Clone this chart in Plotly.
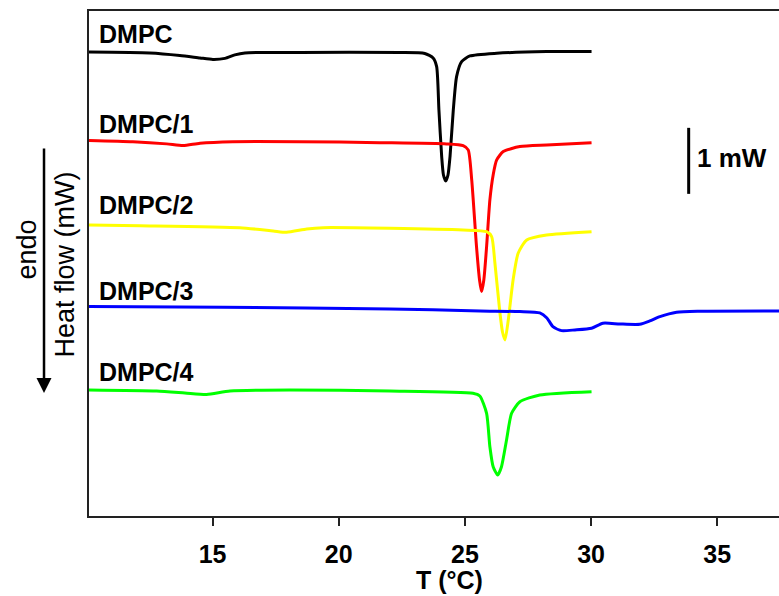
import plotly.graph_objects as go

# ---- data (T in °C, heat flow relative to each curve's start baseline, mW) ----
names = ["DMPC", "DMPC/1", "DMPC/2", "DMPC/3", "DMPC/4"]
colors = ["#000000", "#ff0000", "#ffff00", "#0000ff", "#00ff00"]
offsets = [7.030, 5.682, 4.409, 3.167, 1.909]          # stacking offsets (mW)
label_y = [7.303, 5.939, 4.712, 3.402, 2.174]          # curve label heights (mW)

T_dmpc = [10.10, 12.51, 13.70, 14.50, 15.01, 15.49, 15.88, 16.28, 18.46, 22.42, 23.41,
          23.74, 23.88, 23.97, 24.08, 24.15, 24.24, 24.33, 24.41, 24.54, 24.67, 24.87,
          25.20, 26.26, 28.24, 30.02]
H_dmpc = [0.000, -0.015, -0.053, -0.091, -0.114, -0.098, -0.045, -0.015, -0.008, -0.008, -0.023,
          -0.091, -0.223, -0.879, -1.586, -1.864, -1.955, -1.864, -1.586, -0.879, -0.374, -0.147,
          -0.061, -0.020, 0.005, 0.005]

T_1 = [10.10, 11.84, 13.18, 13.83, 14.50, 15.80, 18.46, 21.63, 24.27, 24.93, 25.13, 25.27,
       25.46, 25.58, 25.66, 25.75, 25.86, 25.99, 26.12, 26.26, 26.52, 27.18, 28.24, 30.02]
H_1 = [0.008, -0.011, -0.045, -0.071, -0.035, -0.011, -0.011, -0.026, -0.045, -0.071, -0.136, -0.591,
       -1.602, -2.106, -2.283, -2.106, -1.602, -0.894, -0.515, -0.288, -0.162, -0.086, -0.061, -0.026]

T_2 = [10.10, 12.12, 16.08, 17.40, 17.93, 18.73, 19.38, 22.03, 24.93, 25.86, 26.06, 26.19,
       26.39, 26.49, 26.59, 26.72, 26.91, 27.11, 27.45, 28.24, 30.02]
H_2 = [0.000, -0.011, -0.041, -0.091, -0.111, -0.061, -0.041, -0.050, -0.076, -0.102, -0.177, -0.580,
       -1.338, -1.621, -1.742, -1.439, -0.833, -0.429, -0.227, -0.152, -0.102]

T_3 = [10.10, 15.41, 22.03, 25.60, 27.18, 27.97, 28.25, 28.49, 28.83, 29.36, 30.02, 30.47,
       31.14, 31.93, 32.33, 32.73, 33.39, 34.31, 37.45]
H_3 = [0.005, -0.005, -0.030, -0.061, -0.071, -0.091, -0.167, -0.298, -0.359, -0.348, -0.323, -0.247,
       -0.258, -0.262, -0.212, -0.147, -0.080, -0.065, -0.061]

T_4 = [10.10, 12.78, 13.90, 14.76, 15.69, 18.06, 22.03, 25.32, 25.59, 25.86, 25.99, 26.12,
       26.30, 26.45, 26.65, 26.85, 27.18, 27.97, 30.02]
H_4 = [0.000, -0.015, -0.045, -0.068, -0.015, 0.000, -0.015, -0.050, -0.091, -0.353, -0.859, -1.162,
       -1.288, -1.162, -0.758, -0.353, -0.177, -0.076, -0.026]

x_ticks = [15, 20, 25, 30, 35]
scale_bar = [1.0]   # mW

series_T = [T_dmpc, T_1, T_2, T_3, T_4]
series_H = [H_dmpc, H_1, H_2, H_3, H_4]

FONT = "Liberation Sans, Arial, sans-serif"
X_MIN, X_MAX = 10.10, 37.45
Y_MIN, Y_MAX = 0.0, 7.65

fig = go.Figure()
for name, col, off, T, H in zip(names, colors, offsets, series_T, series_H):
    fig.add_trace(go.Scatter(
        x=T, y=[off + h for h in H], mode="lines", name=name,
        line=dict(color=col, width=3, shape="spline", smoothing=0.6),
        showlegend=False, hoverinfo="skip"))

annotations = []
for name, ly in zip(names, label_y):
    annotations.append(dict(x=10.41, y=ly, xref="x", yref="y", text="<b>%s</b>" % name,
                            showarrow=False, xanchor="left", yanchor="middle",
                            font=dict(family=FONT, size=25, color="black")))

# scale bar (1 mW)
sb_x = 33.87
sb_y0 = 4.88
fig.add_shape(type="line", xref="x", yref="y", x0=sb_x, x1=sb_x, y0=sb_y0, y1=sb_y0 + scale_bar[0],
              line=dict(color="black", width=3))
annotations.append(dict(x=sb_x + 0.26, y=sb_y0 + scale_bar[0] / 2 + 0.05, xref="x", yref="y",
                        text="<b>1 mW</b>", showarrow=False, xanchor="left", yanchor="middle",
                        font=dict(family=FONT, size=26, color="black")))

# axis titles
annotations.append(dict(x=0.522, y=-0.127, xref="paper", yref="paper", text="<b>T (°C)</b>",
                        showarrow=False, xanchor="center", yanchor="middle",
                        font=dict(family=FONT, size=25, color="black")))
annotations.append(dict(x=-0.0341, y=0.499, xref="paper", yref="paper", text="Heat flow (mW)",
                        textangle=-90, showarrow=False, xanchor="center", yanchor="middle",
                        font=dict(family=FONT, size=27, color="black")))
annotations.append(dict(x=-0.0903, y=0.527, xref="paper", yref="paper", text="endo",
                        textangle=-90, showarrow=False, xanchor="center", yanchor="middle",
                        font=dict(family=FONT, size=27, color="black")))
# endo arrow
annotations.append(dict(x=-0.0652, y=0.2436, xref="paper", yref="paper", text="",
                        showarrow=True, ax=0, ay=-246, arrowhead=2, arrowsize=1.2,
                        arrowwidth=2.5, arrowcolor="black"))

fig.update_layout(
    width=779, height=596,
    margin=dict(l=89, r=0, t=11, b=80),
    paper_bgcolor="white", plot_bgcolor="white",
    annotations=annotations,
    xaxis=dict(range=[X_MIN, X_MAX], tickvals=x_ticks, ticks="outside", ticklen=8,
               tickwidth=1.5, tickcolor="#222", showline=True, linecolor="#222", linewidth=1.5,
               mirror=True, showgrid=False, zeroline=False, ticklabelstandoff=7,
               tickfont=dict(family=FONT, size=25, color="black", weight="bold")),
    yaxis=dict(range=[Y_MIN, Y_MAX], showticklabels=False, ticks="", showline=True,
               linecolor="#222", linewidth=1.5, showgrid=False, zeroline=False),
)

fig.write_html("out.html")
